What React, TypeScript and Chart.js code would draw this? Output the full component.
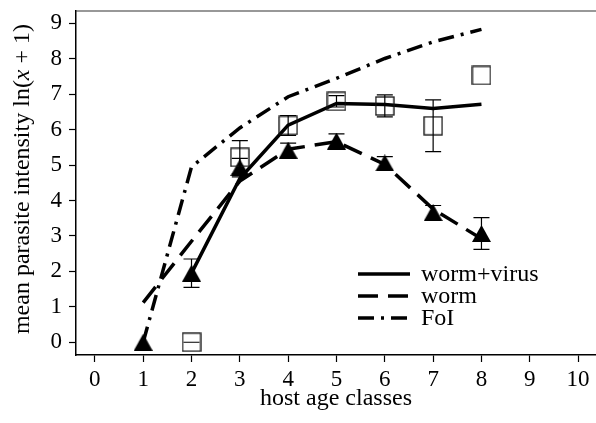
import React, { useEffect, useRef } from 'react';
import { Chart, registerables } from 'chart.js';

Chart.register(...registerables);

// ---- data ----
const ageClasses = [1, 2, 3, 4, 5, 6, 7, 8];
const wormVirusModel = [null, 1.95, 4.62, 6.13, 6.74, 6.71, 6.6, 6.72];
const wormModel = [1.12, 2.85, 4.55, 5.45, 5.66, 5.02, 3.76, 2.92];
const foiModel = [0.0, 4.95, 6.05, 6.93, 7.45, 8.01, 8.48, 8.83];
const wormVirusObs = [null, 0, 5.22, 6.12, 6.8, 6.67, 6.11, 7.53];
const wormVirusErr = [null, 0, 0.47, 0.28, 0.16, 0.31, 0.73, null];
const wormObs = [0, 1.95, 4.93, 5.42, 5.68, 5.06, 3.66, 3.07];
const wormErr = [null, 0.4, 0.26, 0.2, 0.2, 0.18, 0.2, 0.45];
const xTickValues = [0, 1, 2, 3, 4, 5, 6, 7, 8, 9, 10];
const yTickValues = [0, 1, 2, 3, 4, 5, 6, 7, 8, 9];
const legendLabels = ['worm+virus', 'worm', 'FoI'];
const xTitle = 'host age classes';
const yTitleParts = ['mean parasite intensity ln(', 'x', ' + 1)'];

const FONT = '"Liberation Serif", "Times New Roman", serif';
const FS = 24;
const TICK_FS = 23;
const WORM_DASH = [20, 10];
const FOI_DASH = [16, 7, 3, 7];

function pts(vals: (number | null)[]) {
  const out: { x: number; y: number }[] = [];
  ageClasses.forEach((a, i) => {
    const v = vals[i];
    if (v !== null && v !== undefined) out.push({ x: a, y: v });
  });
  return out;
}

function makeTriangle() {
  const w = 19, h = 17;
  const c = document.createElement('canvas');
  c.width = w; c.height = h;
  const g = c.getContext('2d')!;
  g.beginPath();
  g.moveTo(w / 2, 0);
  g.lineTo(w, h);
  g.lineTo(0, h);
  g.closePath();
  g.fillStyle = '#000';
  g.fill();
  return c;
}

function makeSquare() {
  const s = 20;
  const c = document.createElement('canvas');
  c.width = s; c.height = s;
  const g = c.getContext('2d')!;
  g.strokeStyle = '#111';
  g.lineWidth = 1.3;
  g.strokeRect(1, 1, s - 2, s - 2);
  return c;
}

const customPlugin = {
  id: 'customDecor',
  afterDatasetsDraw(chart: any) {
    const { ctx, scales } = chart;
    const x = scales.x, y = scales.y;
    ctx.save();
    ctx.strokeStyle = '#000';
    ctx.lineWidth = 1.2;
    const drawErr = (vals: (number | null)[], errs: (number | null)[]) => {
      ageClasses.forEach((a, i) => {
        const v = vals[i], e = errs[i];
        if (v === null || e === null) return;
        const px = x.getPixelForValue(a);
        const top = y.getPixelForValue(v + e);
        const bot = y.getPixelForValue(v - e);
        ctx.beginPath();
        ctx.moveTo(px, top); ctx.lineTo(px, bot);
        ctx.moveTo(px - 8, top); ctx.lineTo(px + 8, top);
        ctx.moveTo(px - 8, bot); ctx.lineTo(px + 8, bot);
        ctx.stroke();
      });
    };
    drawErr(wormVirusObs, wormVirusErr);
    drawErr(wormObs, wormErr);
    ctx.restore();
  },
  afterDraw(chart: any) {
    const { ctx, chartArea } = chart;
    ctx.save();
    // top border
    ctx.strokeStyle = '#333';
    ctx.lineWidth = 1.2;
    ctx.beginPath();
    ctx.moveTo(chartArea.left, chartArea.top);
    ctx.lineTo(chart.width, chartArea.top);
    ctx.stroke();

    // legend
    const lx0 = 358, lx1 = 410, tx = 421;
    const rows = [274, 296, 318];
    const dashes = [[], WORM_DASH, FOI_DASH];
    ctx.font = `${FS}px ${FONT}`;
    ctx.textBaseline = 'middle';
    ctx.fillStyle = '#000';
    rows.forEach((ry, i) => {
      ctx.strokeStyle = '#000';
      ctx.lineWidth = 3.5;
      ctx.lineCap = 'butt';
      ctx.setLineDash(dashes[i]);
      ctx.beginPath();
      ctx.moveTo(lx0, ry);
      ctx.lineTo(lx1, ry);
      ctx.stroke();
      ctx.setLineDash([]);
      ctx.fillText(legendLabels[i], tx, ry + 1);
    });

    // y title with italic x
    const cx = 23, cy = (chartArea.top + chartArea.bottom) / 2 - 4;
    ctx.translate(cx, cy);
    ctx.rotate(-Math.PI / 2);
    const fonts = [`${FS}px ${FONT}`, `italic ${FS}px ${FONT}`, `${FS}px ${FONT}`];
    const widths = yTitleParts.map((p, i) => { ctx.font = fonts[i]; return ctx.measureText(p).width; });
    const total = widths.reduce((s, w) => s + w, 0);
    let px = -total / 2;
    ctx.textBaseline = 'middle';
    ctx.textAlign = 'left';
    yTitleParts.forEach((p, i) => {
      ctx.font = fonts[i];
      ctx.fillText(p, px, 0);
      px += widths[i];
    });
    ctx.restore();
  },
};

export default function App() {
  const ref = useRef<HTMLCanvasElement | null>(null);
  useEffect(() => {
    document.body.style.margin = '0';
    const canvas = ref.current!;
    const tri = makeTriangle();
    const sq = makeSquare();
    const chart = new Chart(canvas, {
      type: 'scatter',
      data: {
        datasets: [
          {
            label: 'worm+virus obs',
            data: pts(wormVirusObs),
            showLine: false,
            pointStyle: sq as any,
            pointRadius: 10,
            borderColor: '#000',
            backgroundColor: 'rgba(0,0,0,0)',
          },
          {
            label: 'worm obs',
            data: pts(wormObs),
            showLine: false,
            pointStyle: tri as any,
            pointRadius: 10,
            borderColor: '#000',
            backgroundColor: '#000',
          },
          {
            label: legendLabels[0],
            data: pts(wormVirusModel),
            showLine: true,
            pointRadius: 0,
            borderColor: '#000',
            borderWidth: 3.5,
            tension: 0,
            fill: false,
          },
          {
            label: legendLabels[1],
            data: pts(wormModel),
            showLine: true,
            pointRadius: 0,
            borderColor: '#000',
            borderWidth: 3.5,
            borderDash: WORM_DASH,
            tension: 0,
            fill: false,
          },
          {
            label: legendLabels[2],
            data: pts(foiModel),
            showLine: true,
            pointRadius: 0,
            borderColor: '#000',
            borderWidth: 3.5,
            borderDash: FOI_DASH,
            tension: 0,
            fill: false,
          },
        ],
      },
      options: {
        animation: false,
        responsive: false,
        events: [],
        layout: { autoPadding: false, padding: { top: 11, right: 0, left: 0, bottom: 0 } },
        plugins: { legend: { display: false }, tooltip: { enabled: false } },
        scales: {
          x: {
            type: 'linear',
            min: -0.39,
            max: 10.37,
            afterBuildTicks: (s: any) => { s.ticks = xTickValues.map((v) => ({ value: v })); },
            afterFit: (s: any) => { s.height = 68; s.paddingLeft = 0; s.paddingRight = 0; },
            ticks: {
              color: '#000',
              font: { family: FONT, size: TICK_FS },
              padding: 4,
              maxRotation: 0,
              autoSkip: false,
              callback: (v: any) => String(v),
            },
            grid: { drawOnChartArea: false, drawTicks: true, tickLength: 7, tickWidth: 1.2, tickColor: '#000' },
            border: { display: true, color: '#000', width: 1.5 },
            title: {
              display: true,
              text: xTitle,
              color: '#000',
              font: { family: FONT, size: FS },
              padding: { top: 0, bottom: 10 },
            },
          },
          y: {
            type: 'linear',
            min: -0.36,
            max: 9.35,
            afterBuildTicks: (s: any) => { s.ticks = yTickValues.map((v) => ({ value: v })); },
            afterFit: (s: any) => { s.width = 76; s.paddingTop = 0; s.paddingBottom = 0; },
            ticks: {
              color: '#000',
              font: { family: FONT, size: TICK_FS },
              padding: 7,
              autoSkip: false,
              callback: (v: any) => String(v),
            },
            grid: { drawOnChartArea: false, drawTicks: true, tickLength: 7, tickWidth: 1.2, tickColor: '#000' },
            border: { display: true, color: '#000', width: 1.5 },
          },
        },
      },
      plugins: [customPlugin],
    } as any);
    return () => chart.destroy();
  }, []);
  return (
    <div style={{ width: 596, height: 423, position: 'relative' }}>
      <canvas ref={ref} width={596} height={423} style={{ display: 'block' }} />
    </div>
  );
}
